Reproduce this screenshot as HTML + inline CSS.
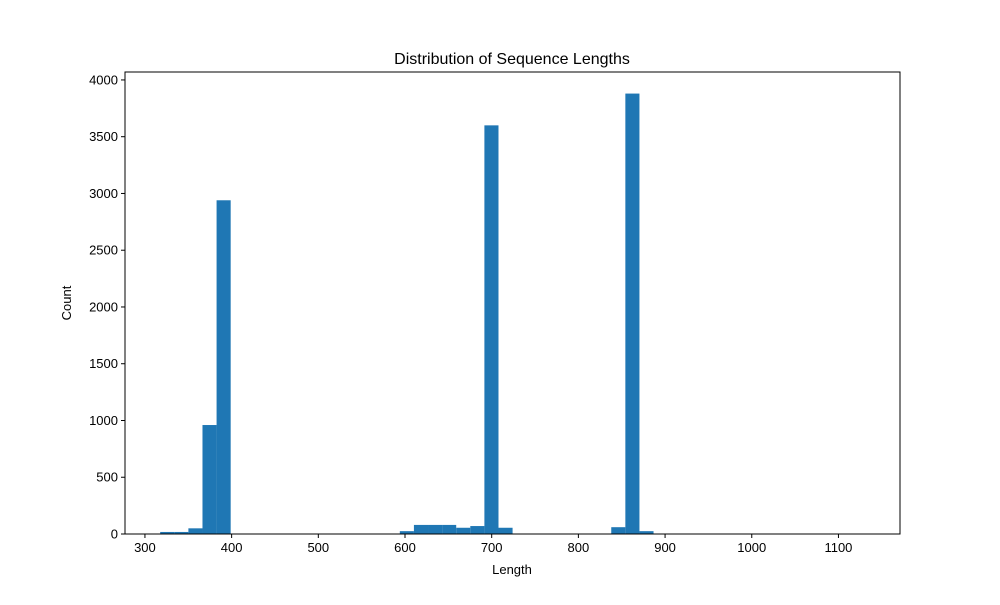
<!DOCTYPE html>
<html><head><meta charset="utf-8"><style>
body{margin:0;background:#fff}
svg text{font-family:"Liberation Sans","DejaVu Sans",sans-serif;fill:#000}
</style></head><body>
<svg id="chart" width="1000" height="600">
<rect width="1000" height="600" fill="#fff"/>
<text x="512" y="64" font-size="16" text-anchor="middle">Distribution of Sequence Lengths</text>
<g id="bars"></g>
<g id="axes"></g>
<text x="512" y="574" font-size="13" text-anchor="middle">Length</text>
<text transform="translate(71,303) rotate(-90)" font-size="13" text-anchor="middle">Count</text>
</svg>
<script>
const binStart = 317.6;
const binWidth = 16.26;
const counts = [18,18,50,960,2940,0,0,0,0,0,0,0,0,0,0,0,0,25,80,80,80,55,70,3600,55,0,0,0,0,0,0,0,60,3880,25,0,0,0,0,0,0,0,0,0,0,0,0,0,0,0];
const xTicks = [300,400,500,600,700,800,900,1000,1100];
const yTicks = [0,500,1000,1500,2000,2500,3000,3500,4000];
const L=125,R=900,T=72,B=534,xMin=277,xMax=1171,yMax=4070;
const xs=v=>L+(v-xMin)/(xMax-xMin)*(R-L);
const ys=v=>B-v/yMax*(B-T);
const NS="http://www.w3.org/2000/svg";
const bars=document.getElementById('bars'),axes=document.getElementById('axes');
function mk(tag,attrs,parent){const e=document.createElementNS(NS,tag);for(const k in attrs)e.setAttribute(k,attrs[k]);parent.appendChild(e);return e;}
counts.forEach((c,i)=>{
  const x0=xs(binStart+i*binWidth),x1=xs(binStart+(i+1)*binWidth);
  const r=mk('rect',{x:x0,y:ys(c),width:x1-x0,height:B-ys(c),fill:'#1f77b4'},bars);
  
  
});
const frame=mk('rect',{x:L,y:T,width:R-L,height:B-T,fill:'none',stroke:'#000','stroke-width':1},axes);


xTicks.forEach(v=>{
  const x=xs(v);
  mk('line',{x1:x,x2:x,y1:B,y2:B+4,stroke:'#000'},axes);
  const t=mk('text',{x:x,y:B+18,'font-size':13,'text-anchor':'middle'},axes);
  t.textContent=v;
  
  
});
yTicks.forEach(v=>{
  const y=ys(v);
  mk('line',{x1:L-4,x2:L,y1:y,y2:y,stroke:'#000'},axes);
  const t=mk('text',{x:L-7,y:y+4.5,'font-size':13,'text-anchor':'end'},axes);
  t.textContent=v;
  
  
});
</script>
</body></html>
